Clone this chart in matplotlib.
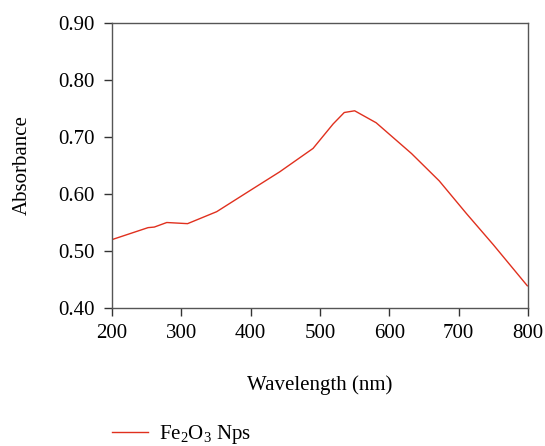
import matplotlib.pyplot as plt
import numpy as np

plt.rcParams['font.family'] = ['Liberation Serif', 'DejaVu Serif']
plt.rcParams['mathtext.fontset'] = 'custom'
plt.rcParams['mathtext.rm'] = 'Liberation Serif'
plt.rcParams['mathtext.it'] = 'Liberation Serif:italic'

# UV-vis absorbance of Fe2O3 nanoparticles
wavelength = [200, 252, 261, 279, 309, 351, 399, 442, 490, 519, 535, 550,
              581, 632, 672, 711, 750, 799]
absorbance = [0.520, 0.541, 0.542, 0.550, 0.548, 0.569, 0.606, 0.639, 0.680,
              0.723, 0.743, 0.746, 0.725, 0.671, 0.623, 0.566, 0.511, 0.439]

xticks = [200, 300, 400, 500, 600, 700, 800]
yticks = [0.40, 0.50, 0.60, 0.70, 0.80, 0.90]

fig = plt.figure(figsize=(5.45, 4.46), dpi=100)
ax = fig.add_axes([0.2055, 0.3094, 0.7633, 0.639])

line, = ax.plot(wavelength, absorbance, color='#e0301e', lw=1.0,
                label='Fe$_2$O$_3$ Nps')

ax.set_xlim(200, 800)
ax.set_ylim(0.40, 0.90)
ax.set_xticks(xticks)
ax.set_yticks(yticks)
ax.set_yticklabels(['%.2f' % v for v in yticks])

for s in ax.spines.values():
    s.set_color('#555555')
    s.set_linewidth(1.0)
ax.tick_params(direction='out', length=5.5, width=1.0, color='#333333',
               labelsize=15)
ax.tick_params(axis='y', pad=7)
ax.tick_params(axis='x', pad=6)

ax.set_xlabel('Wavelength (nm)', fontsize=15, labelpad=23)
ax.set_ylabel('Absorbance', fontsize=15, labelpad=19)

fig.legend(handles=[line], loc='center left', bbox_to_anchor=(0.172, 0.025),
           frameon=False, fontsize=15, handlelength=1.7, handletextpad=0.55)

fig.savefig('out.png', dpi=100)
